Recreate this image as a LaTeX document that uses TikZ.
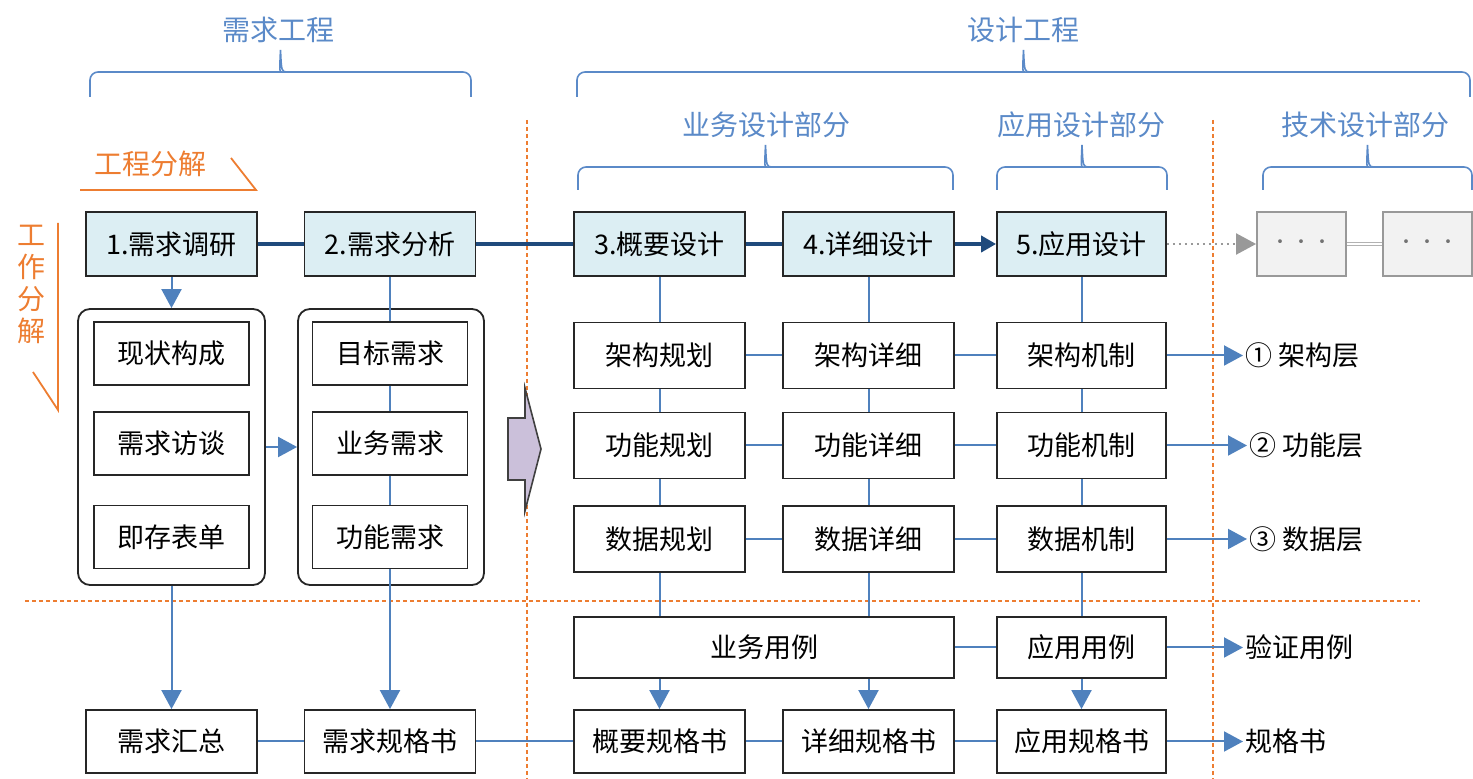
\documentclass[tikz,border=0pt]{standalone}
\usepackage{fontspec}
\setmainfont{Noto Sans CJK SC}
\usetikzlibrary{arrows.meta}

\definecolor{lineblue}{HTML}{4F81BD}
\definecolor{headblue}{HTML}{5B8AC8}
\definecolor{darkline}{HTML}{1F4A7C}
\definecolor{orangeline}{HTML}{ED7D31}
\definecolor{stepfill}{HTML}{DCEEF3}
\definecolor{arrowfill}{HTML}{CBC0DA}

% brace: left x, right x, end y, bar y, tip y
\newcommand\designbrace[5]{%
	\draw[bracket] (#1,#3) [rounded corners=4pt] |- ({(#1+#2)/2-7},#4) [sharp corners]
		.. controls ({(#1+#2)/2-1},#4) .. ({(#1+#2)/2},#5)
		.. controls ({(#1+#2)/2+1},#4) .. ({(#1+#2)/2+7},#4) [rounded corners=4pt] -| (#2,#3);}

\begin{document}
\begin{tikzpicture}[x=0.5pt, y=-0.5pt,
		box/.style={draw=black!85, line width=0.9pt, fill=white, minimum width=85.5pt, minimum height=33pt, inner sep=0pt, font=\fontsize{13.5}{15}\selectfont},
		stepbox/.style={box, fill=stepfill, minimum height=32pt},
		greybox/.style={draw=black!40, line width=0.9pt, fill=black!5, minimum width=44.5pt, minimum height=32pt, inner sep=0pt, text=black!55, font=\fontsize{9}{10}\selectfont},
		subbox/.style={box, minimum width=77.5pt, minimum height=31.5pt},
		group/.style={draw=black!85, line width=0.9pt, rounded corners=6pt, minimum width=93.5pt, minimum height=138pt, inner sep=0pt},
		conn/.style={draw=lineblue, line width=1pt},
		flow/.style={conn, -{Triangle[width=10pt,length=9.5pt]}},
		title/.style={text=headblue, font=\fontsize{14}{16}\selectfont},
		outlabel/.style={anchor=west, inner sep=1pt, font=\fontsize{13.5}{15}\selectfont},
		bracket/.style={draw=headblue, line width=0.8pt},
		sep/.style={draw=orangeline, line width=0.9pt, dash pattern=on 2pt off 1.5pt}]
	\useasboundingbox (0,0) rectangle (1473,779);
	
	% separators
	\draw[sep] (527,120) -- (527,779);
	\draw[sep] (1213,120) -- (1213,779);
	\draw[sep] (25,601) -- (1420,601);
	
	% titles and braces
	\node[title] (eng1) at (278,30) {需求工程};
	\node[title] (eng2) at (1023,30) {设计工程};
	\node[title] (part1) at (766,125) {业务设计部分};
	\node[title] (part2) at (1081,125) {应用设计部分};
	\node[title] (part3) at (1365,125) {技术设计部分};
	\designbrace{90}{471}{97}{72}{50}
	\designbrace{577}{1470}{97}{72}{50}
	\designbrace{578}{953}{190}{167}{145}
	\designbrace{997}{1167}{190}{167}{145}
	\designbrace{1263}{1472}{190}{167}{145}
	
	% decomposition marks
	\node[text=orangeline, font=\fontsize{14}{16}\selectfont] (split1) at (150,164) {工程分解};
	\draw[orangeline, line width=0.9pt] (80,190) -- (256,190) -- (231,158);
	\node[text=orangeline, align=center, font=\fontsize{14}{16}\selectfont] (split2) at (32,284) {工\\作\\分\\解};
	\draw[orangeline, line width=0.9pt] (58,223) -- (58,410) -- (33,372);
	
	% steps
	\node[stepbox] (s1) at (171.5,244) {1.需求调研};
	\node[stepbox] (s2) at (390,244) {2.需求分析};
	\node[stepbox] (s3) at (659.5,244) {3.概要设计};
	\node[stepbox] (s4) at (868.5,244) {4.详细设计};
	\node[stepbox, minimum width=84.5pt] (s5) at (1081.5,244) {5.应用设计};
	\node[greybox] (t1) at (1301.5,244) {·\,·\,·};
	\node[greybox] (t2) at (1427.5,244) {·\,·\,·};
	
	% requirement groups
	\node[group] (g1) at (171.5,447) {};
	\node[group, minimum width=93pt] (g2) at (391,447) {};
	\node[subbox] (r1) at (171.5,353.5) {现状构成};
	\node[subbox] (r2) at (171.5,443.5) {需求访谈};
	\node[subbox] (r3) at (171.5,537) {即存表单};
	\node[subbox] (a1) at (390,353.5) {目标需求};
	\node[subbox] (a2) at (390,443.5) {业务需求};
	\node[subbox] (a3) at (390,537) {功能需求};
	
	% block arrow
	\draw[fill=arrowfill, draw=black!75, line width=0.8pt] (508,418) -- (525,418) -- (525,388) -- (541,449) -- (525,511) -- (525,480) -- (508,480) -- cycle;
	
	% design grid
	\node[box] (p1) at (659.5,355.5) {架构规划};
	\node[box] (p2) at (868.5,355.5) {架构详细};
	\node[box, minimum width=84.5pt] (p3) at (1081.5,355.5) {架构机制};
	\node[box] (q1) at (659.5,445.5) {功能规划};
	\node[box] (q2) at (868.5,445.5) {功能详细};
	\node[box, minimum width=84.5pt] (q3) at (1081.5,445.5) {功能机制};
	\node[box] (d1) at (659.5,539) {数据规划};
	\node[box] (d2) at (868.5,539) {数据详细};
	\node[box, minimum width=84.5pt] (d3) at (1081.5,539) {数据机制};
	\node[box, minimum width=190pt, minimum height=30.5pt] (u1) at (764,647.5) {业务用例};
	\node[box, minimum width=84.5pt, minimum height=30.5pt] (u2) at (1081.5,647.5) {应用用例};
	
	% documents
	\node[box, minimum height=31.5pt] (b1) at (171.5,741.5) {需求汇总};
	\node[box, minimum height=31.5pt] (b2) at (390,741.5) {需求规格书};
	\node[box, minimum height=31.5pt] (b3) at (659.5,741.5) {概要规格书};
	\node[box, minimum height=31.5pt] (b4) at (868.5,741.5) {详细规格书};
	\node[box, minimum height=31.5pt, minimum width=84.5pt] (b5) at (1081.5,741.5) {应用规格书};
	
	% outputs
	\node[outlabel] (l1) at (1243,355.5) {① 架构层};
	\node[outlabel] (l2) at (1247,445.5) {② 功能层};
	\node[outlabel] (l3) at (1247,539) {③ 数据层};
	\node[outlabel] (l4) at (1243,647.5) {验证用例};
	\node[outlabel] (l5) at (1243,741.5) {规格书};
	
	% main flow
	\draw[darkline, line width=2.4pt] (s1) -- (s2) -- (s3) -- (s4);
	\draw[darkline, line width=2.4pt, -{Triangle[width=8pt,length=7.5pt]}] (s4) -- (s5);
	\draw[black!40, line width=1pt, dotted, -{Triangle[width=10.5pt,length=10pt]}] (s5) -- (t1);
	\draw[black!30, double=white, double distance=1.2pt, line width=0.6pt] (t1) -- (t2);
	
	% requirement connectors
	\draw[flow] (s1) -- (g1);
	\draw[flow] (g1) -- (g2);
	\draw[conn] (s2) -- (a1) -- (a2) -- (a3);
	\draw[flow] (g1) -- (b1);
	\draw[flow] (a3) -- (b2);
	
	% design connectors
	\draw[conn] (s3) -- (p1) -- (q1) -- (d1) -- (d1.south |- u1.north);
	\draw[conn] (s4) -- (p2) -- (q2) -- (d2) -- (d2.south |- u1.north);
	\draw[conn] (s5) -- (p3) -- (q3) -- (d3) -- (u2);
	\draw[conn] (p1) -- (p2) -- (p3);
	\draw[conn] (q1) -- (q2) -- (q3);
	\draw[conn] (d1) -- (d2) -- (d3);
	\draw[conn] (u1) -- (u2);
	\draw[flow] (u1.south -| b3) -- (b3);
	\draw[flow] (u1.south -| b4) -- (b4);
	\draw[flow] (u2) -- (b5);
	\draw[conn] (b1) -- (b2) -- (b3) -- (b4) -- (b5);
	
	% outputs
	\draw[flow] (p3) -- (l1);
	\draw[flow] (q3) -- (l2);
	\draw[flow] (d3) -- (l3);
	\draw[flow] (u2) -- (l4);
	\draw[flow] (b5) -- (l5);
\end{tikzpicture}
\end{document}
